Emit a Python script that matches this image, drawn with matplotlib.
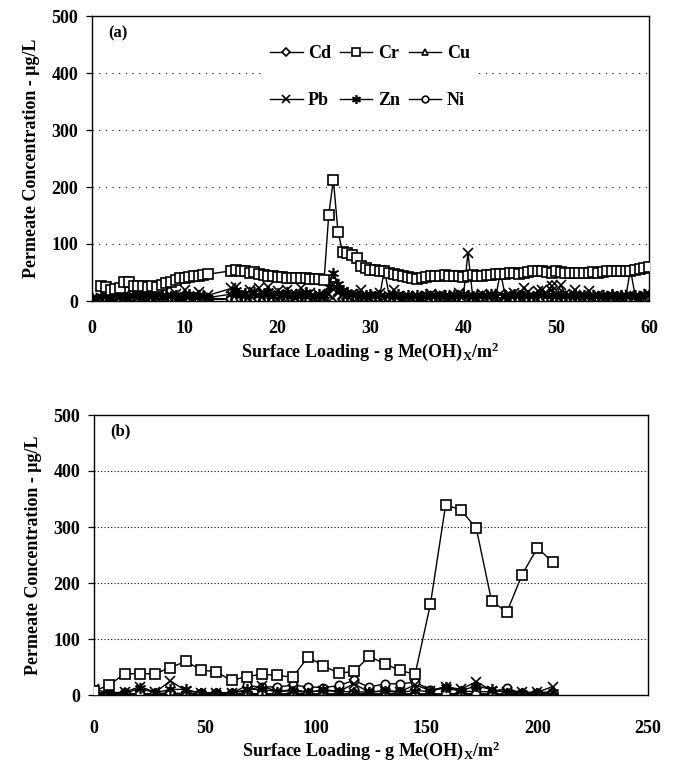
import matplotlib
matplotlib.use("Agg")
import matplotlib.pyplot as plt
import numpy as np

plt.rcParams['font.family'] = ['Liberation Serif', 'DejaVu Serif']
plt.rcParams['font.weight'] = 'bold'
plt.rcParams['mathtext.fontset'] = 'custom'
plt.rcParams['mathtext.rm'] = 'Liberation Serif:bold'
plt.rcParams['mathtext.bf'] = 'Liberation Serif:bold'
plt.rcParams['mathtext.it'] = 'Liberation Serif:bold'

nan = np.nan

# (a) surface loading, g/m2
xA = [0.0, 1.0, 1.5, 2.0, 2.5, 3.0, 3.5, 4.0, 4.5, 5.0,
      5.5, 6.0, 6.5, 7.0, 7.5, 8.0, 8.5, 9.0, 9.5, 10.0,
      10.5, 11.0, 11.5, 12.0, 12.5,
      15.0, 15.5, 16.0, 16.5, 17.0, 17.5, 18.0, 18.5, 19.0, 19.5,
      20.0, 20.5, 21.0, 21.5, 22.0, 22.5, 23.0, 23.5, 24.0, 24.5,
      25.0, 25.5, 26.0, 26.5, 27.0, 27.5, 28.0, 28.5, 29.0, 29.5,
      30.0, 30.5, 31.0, 31.5, 32.0, 32.5, 33.0, 33.5, 34.0, 34.5,
      35.0, 35.5, 36.0, 36.5, 37.0, 37.5, 38.0, 38.5, 39.0, 39.5,
      40.0, 40.5, 41.0, 41.5, 42.0, 42.5, 43.0, 43.5, 44.0, 44.5,
      45.0, 45.5, 46.0, 46.5, 47.0, 47.5, 48.0, 48.5, 49.0, 49.5,
      50.0, 50.5, 51.0, 51.5, 52.0, 52.5, 53.0, 53.5, 54.0, 54.5,
      55.0, 55.5, 56.0, 56.5, 57.0, 57.5, 58.0, 58.5, 59.0, 59.5, 60.0]

cdA = [3, 2, 3, 2, 4, 2, 3, 2, 3, 2, 4, 2, 3, 2, 3, 4, 2, 3, 2, 3, 2, 3, 2, 4, 3,
       3, 2, 4, 3, 2, 3, 4, 2, 3, 2,
       3, 4, 2, 3, 2, 4, 3, 2, 3, 4,
       2, 8, 12, 6, 4, 3, 2, 3, 4, 3,
       2, 3, 4, 2, 3, 2, 4, 3, 2, 3,
       4, 2, 3, 2, 3, 4, 2, 3, 2, 3,
       2, 3, 4, 3, 2, 3, 2, 4, 3, 2,
       3, 2, 4, 3, 2, 3, 4, 2, 3, 27,
       3, 2, 4, 3, 2, 3, 2, 4, 3, 2,
       3, 2, 4, 3, 2, 3, 2, 3, 4, 2, 3]
crA = [nan, 27, 24, 20, 21, 22, 33, 33, 27, 26, 26, 25, 26, 25, 28, 31, 34, 36, 40, 41,
       42, 43, 44, 45, 47,
       53, 55, 53, 52, 50, 51, 48, 46, 44, 43,
       42, 42, 41, 41, 40, 40, 40, 39, 39, 38,
       37, 151, 213, 121, 86, 85, 80, 76, 62, 58,
       55, 54, 53, 52, 50, 47, 45, 43, 42, 40,
       38, 41, 42, 43, 44, 44, 45, 44, 44, 43,
       42, 44, 46, 43, 44, 45, 46, 47, 47, 48,
       49, 49, 48, 50, 51, 52, 53, 52, 51, 50,
       52, 51, 50, 49, 50, 50, 49, 50, 51, 50,
       51, 52, 52, 53, 53, 52, 53, 55, 57, 58, 59]
cuA = [2, 3, 2, 4, 3, 2, 3, 4, 2, 3, 2, 3, 4, 2, 3, 2, 3, 4, 2, 3, 2, 4, 3, 2, 3,
       4, 5, 3, 6, 4, 5, 3, 4, 6, 3,
       5, 4, 3, 5, 4, 6, 3, 4, 5, 3,
       4, 20, 40, 25, 8, 5, 4, 3, 4, 3,
       5, 4, 3, 6, 4, 3, 5, 4, 3, 5,
       4, 3, 5, 4, 3, 5, 4, 3, 4, 5,
       3, 4, 5, 3, 4, 5, 3, 4, 6, 4,
       3, 5, 4, 3, 5, 4, 3, 4, 5, 3,
       4, 3, 5, 4, 3, 5, 4, 3, 4, 5,
       3, 4, 5, 3, 4, 5, 3, 4, 5, 3, 4]
pbA = [4, 6, 8, 5, 12, 7, 9, 5, 14, 6, 8, 18, 7, 6, 15, 5, 9, 12, 6, 19, 7, 8, 16, 5, 10,
       22, 25, 12, 8, 20, 15, 22, 10, 24, 9,
       18, 7, 20, 12, 6, 22, 9, 14, 6, 10,
       5, 12, 30, 18, 10, 8, 12, 6, 20, 8,
       6, 10, 14, 5, 8, 20, 7, 6, 9, 5,
       8, 6, 9, 12, 8, 10, 6, 7, 10, 14,
       8, 85, 9, 6, 12, 8, 10, 6, 12, 7,
       10, 14, 8, 22, 15, 9, 18, 20, 12, 26,
       8, 28, 12, 9, 20, 7, 11, 18, 6, 10,
       8, 5, 7, 9, 6, 8, 10, 7, 5, 9, 12]
znA = [5, 8, 10, 6, 12, 9, 7, 11, 8, 13, 6, 10, 9, 12, 7, 11, 8, 10, 6, 9, 12, 7, 10, 8, 6,
       12, 20, 10, 14, 8, 16, 10, 12, 18, 8,
       14, 10, 16, 9, 12, 8, 15, 10, 9, 12,
       10, 25, 50, 30, 20, 15, 10, 12, 8, 10,
       12, 8, 10, 55, 10, 8, 12, 9, 10, 8,
       10, 9, 12, 8, 10, 9, 11, 8, 10, 9,
       12, 10, 9, 11, 8, 10, 12, 9, 50, 10,
       9, 12, 10, 8, 11, 9, 10, 12, 8, 10,
       9, 11, 8, 10, 12, 9, 10, 8, 11, 9,
       10, 8, 12, 9, 10, 8, 55, 10, 9, 12, 10]
niA = [3, 4, 5, 3, 6, 4, 5, 3, 6, 4, 5, 3, 4, 6, 5, 3, 4, 5, 3, 6, 4, 5, 3, 4, 5,
       3, 5, 4, 6, 3, 5, 4, 6, 3, 5,
       4, 6, 3, 5, 4, 6, 5, 3, 4, 5,
       5, 12, 15, 10, 6, 4, 5, 3, 6, 4,
       5, 4, 6, 3, 5, 4, 6, 5, 3, 4,
       6, 4, 5, 3, 6, 4, 5, 3, 4, 6,
       4, 5, 3, 6, 4, 5, 3, 6, 4, 5,
       3, 6, 4, 5, 3, 6, 4, 5, 3, 6,
       4, 5, 3, 6, 4, 5, 3, 6, 4, 5,
       3, 6, 4, 5, 3, 6, 4, 5, 3, 6, 4]

# (b) surface loading, g/m2
xB = [0.0, 6.9, 13.8, 20.7, 27.6, 34.5, 41.4, 48.3, 55.2, 62.1,
      69.0, 75.9, 82.8, 89.7, 96.6, 103.5, 110.4, 117.3, 124.2, 131.1,
      138.0, 144.9, 151.8, 158.7, 165.6, 172.5, 179.4, 186.3, 193.2, 200.1, 207.0]
cdB = [2, 2, 3, 2, 2, 3, 2, 2, 2, 2, 3, 2, 2, 3, 2, 2, 2, 3, 2, 2, 3, 2, 2, 2, 3, 2, 2, 2, 2, 2, 3]
crB = [7, 18, 38, 38, 38, 49, 60, 45, 41, 26, 33, 37, 35, 32, 68, 52, 39, 42, 69, 56,
       44, 37, 162, 340, 330, 298, 168, 148, 215, 263, 237]
cuB = [1, 1, 2, 1, 1, 2, 1, 1, 1, 2, 1, 1, 2, 1, 1, 1, 2, 1, 1, 2, 1, 1, 1, 2, 1, 1, 2, 1, 1, 1, 2]
pbB = [10, 4, 5, 15, 5, 25, 8, 4, 4, 4, 8, 16, 6, 10, 5, 8, 6, 20, 5, 8,
       6, 18, 8, 15, 10, 24, 8, 6, 5, 5, 15]
znB = [5, 3, 3, 12, 4, 10, 10, 3, 3, 3, 10, 10, 6, 8, 4, 10, 6, 6, 5, 7,
       5, 8, 6, 15, 8, 16, 10, 4, 4, 4, 6]
niB = [3, 3, 3, 2, 3, 3, 3, 3, 3, 3, 17, 14, 15, 17, 15, 13, 17, 26, 14, 20,
       20, 23, 9, 12, 7, 6, 6, 12, 3, 3, 3]

metals = ["Cd", "Cr", "Cu", "Pb", "Zn", "Ni"]
markers = {"Cd": ("D", 5), "Cr": ("s", 7), "Cu": ("^", 6),
           "Pb": ("x", 7), "Zn": ((6, 2, 0), 8), "Ni": ("o", 6)}
# hollow low-level series go underneath, the crosses/asterisks over them
layer = {"Cd": 2.2, "Cu": 2.1, "Ni": 2.0, "Pb": 2.5, "Zn": 2.6, "Cr": 3}

seriesA = {"Cd": cdA, "Cr": crA, "Cu": cuA, "Pb": pbA, "Zn": znA, "Ni": niA}
seriesB = {"Cd": cdB, "Cr": crB, "Cu": cuB, "Pb": pbB, "Zn": znB, "Ni": niB}

FS = 13


def panel(ax, x, data, xmax, xstep, tag, dots, xpad):
    handles = {}
    for m in metals:
        mk, ms = markers[m]
        h, = ax.plot(x, data[m], color="black", lw=1.0, marker=mk, ms=ms,
                     mfc="white", mec="black", mew=1.2, label=m, zorder=layer[m])
        handles[m] = h
    ax.set_xlim(0, xmax)
    ax.set_ylim(0, 500)
    ax.set_xticks(np.arange(0, xmax + 1, xstep))
    ax.set_yticks(np.arange(0, 501, 100))
    for yv in [100, 200, 300, 400]:
        ax.axhline(yv, color="black", lw=0.8, ls=(0, dots), zorder=1)
    ax.tick_params(axis="x", length=0, pad=xpad, labelsize=FS)
    ax.tick_params(axis="y", length=4, width=0.9, pad=6, labelsize=FS)
    for lab in ax.get_xticklabels() + ax.get_yticklabels():
        lab.set_fontweight("bold")
    for s in ax.spines.values():
        s.set_linewidth(1.0)
    ax.set_ylabel("Permeate Concentration - \u03bcg/L", fontsize=FS, fontweight="bold", labelpad=8)
    ax.set_xlabel("Surface Loading - g Me(OH)$_\\mathrm{X}$/m$^\\mathrm{2}$", fontsize=FS,
                  fontweight="bold", labelpad=2)
    ax.text(0.03, 0.94, tag, transform=ax.transAxes, fontsize=FS - 1, fontweight="bold",
            va="center", ha="left")
    return handles


fig = plt.figure(figsize=(6.73, 7.69), dpi=100)
axA = fig.add_axes([92 / 673, 1 - 301 / 769, 557 / 673, 285 / 769])
axB = fig.add_axes([94 / 673, 1 - 695 / 769, 554 / 673, 280 / 769])

hA = panel(axA, xA, seriesA, 60, 10, "(a)", (1, 5), 14)
panel(axB, xB, seriesB, 250, 50, "(b)", (1, 2), 18)

# legend fills column by column, so interleave to get rows Cd Cr Cu / Pb Zn Ni
order = ["Cd", "Pb", "Cr", "Zn", "Cu", "Ni"]
leg = axA.legend([hA[m] for m in order], order, ncol=3, loc="center",
                 bbox_to_anchor=(0.499, 0.785), fontsize=FS,
                 frameon=True, facecolor="white", edgecolor="none", framealpha=1,
                 handlelength=1.8, handletextpad=0.3, columnspacing=0.5,
                 labelspacing=1.65, borderpad=0.3, markerscale=0.8)
leg.set_zorder(5)
for t in leg.get_texts():
    t.set_fontweight("bold")

fig.savefig("out.png", dpi=100)
